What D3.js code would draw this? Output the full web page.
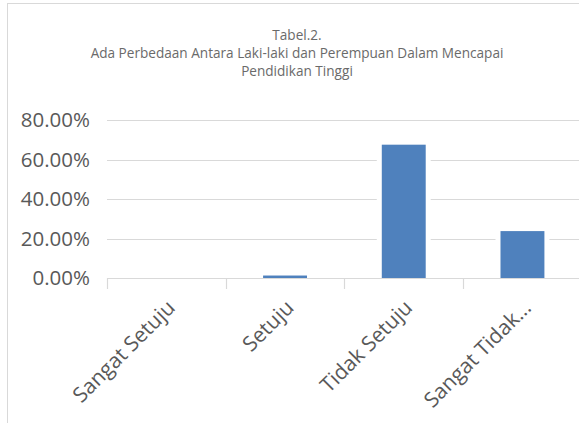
<!DOCTYPE html>
<html><head><meta charset="utf-8">
<script src="https://cdn.jsdelivr.net/npm/d3@7"></script>
<style>body{margin:0;background:#fff;} svg{display:block;}</style>
</head><body>
<svg id="c" width="579" height="423"></svg>
<script>
const categories = ["Sangat Setuju", "Setuju", "Tidak Setuju", "Sangat Tidak..."];
const values = [0, 1.25, 67.5, 23.75];
const yTicks = [0, 20, 40, 60, 80];
const titleLines = ["Tabel.2.", "Ada Perbedaan Antara Laki-laki dan Perempuan Dalam Mencapai", "Pendidikan Tinggi"];

const svg = d3.select("#c");
const FONT = "'Open Sans', 'Noto Sans', sans-serif";
const grey = "#595959", gridC = "#d9d9d9", barC = "#4f81bd";

// chart border
svg.append("rect").attr("x", 7.5).attr("y", 3.5).attr("width", 700).attr("height", 700)
  .attr("fill", "#fff").attr("stroke", gridC).attr("stroke-width", 1);

// title
const titleY = [40, 58, 76];
titleLines.forEach((t, i) => {
  svg.append("text").attr("x", 297).attr("y", titleY[i])
    .attr("text-anchor", "middle").attr("font-family", FONT).attr("font-size", 13.6)
    .attr("fill", "#6a6a6a").text(t);
});

const x = d3.scaleBand().domain(categories).range([107, 107 + 4 * 118.7]).padding(0);
const y = d3.scaleLinear().domain([0, 80]).range([278, 120]);
const barW = x.bandwidth() * 0.37;

// gridlines
svg.append("g").selectAll("line").data(yTicks.filter(d => d > 0)).join("line")
  .attr("x1", x.range()[0]).attr("x2", x.range()[1])
  .attr("y1", d => Math.round(y(d)) + 0.5).attr("y2", d => Math.round(y(d)) + 0.5)
  .attr("stroke", gridC).attr("stroke-width", 1.2);

// white gaps around bars
svg.append("g").selectAll("rect").data(categories).join("rect")
  .attr("x", d => x(d) + x.bandwidth() / 2 - barW / 2 - 5)
  .attr("width", barW + 10)
  .attr("y", (d, i) => values[i] > 0 ? y(values[i]) - 5 : y(0))
  .attr("height", (d, i) => values[i] > 0 ? y(0) - y(values[i]) + 5 : 0)
  .attr("fill", "#fff");

// y axis labels
const yAxis = d3.axisLeft(y).tickValues(yTicks).tickSize(0).tickPadding(0)
  .tickFormat(d => d3.format(".2f")(d) + "%");
const ga = svg.append("g").attr("transform", "translate(90,0)").call(yAxis);
ga.select(".domain").remove();
ga.selectAll("text").attr("font-family", FONT).attr("font-size", 20.5).attr("fill", grey);

// x axis line & ticks
const xa = svg.append("g");
xa.append("line").attr("x1", x.range()[0]).attr("x2", x.range()[1])
  .attr("y1", y(0) + 0.5).attr("y2", y(0) + 0.5).attr("stroke", gridC).attr("stroke-width", 1.2);
const tickPos = categories.map(c => x(c)).concat([x.range()[1]]);
xa.selectAll("line.t").data(tickPos).join("line").attr("class", "t")
  .attr("x1", d => Math.round(d) + 0.5).attr("x2", d => Math.round(d) + 0.5)
  .attr("y1", y(0)).attr("y2", y(0) + 11).attr("stroke", gridC).attr("stroke-width", 1.2);

// bars
svg.append("g").selectAll("rect").data(categories).join("rect")
  .attr("x", d => x(d) + x.bandwidth() / 2 - barW / 2)
  .attr("width", barW)
  .attr("y", (d, i) => y(values[i]))
  .attr("height", (d, i) => y(0) - y(values[i]))
  .attr("fill", barC);

// x labels
svg.append("g").selectAll("text").data(categories).join("text")
  .attr("transform", d => `translate(${x(d) + x.bandwidth() / 2 + 6},${y(0) + 27}) rotate(-45)`)
  .attr("text-anchor", "end").attr("dominant-baseline", "middle")
  .attr("font-family", FONT).attr("font-size", 21).attr("fill", grey)
  .text(d => d);
</script>
</body></html>
